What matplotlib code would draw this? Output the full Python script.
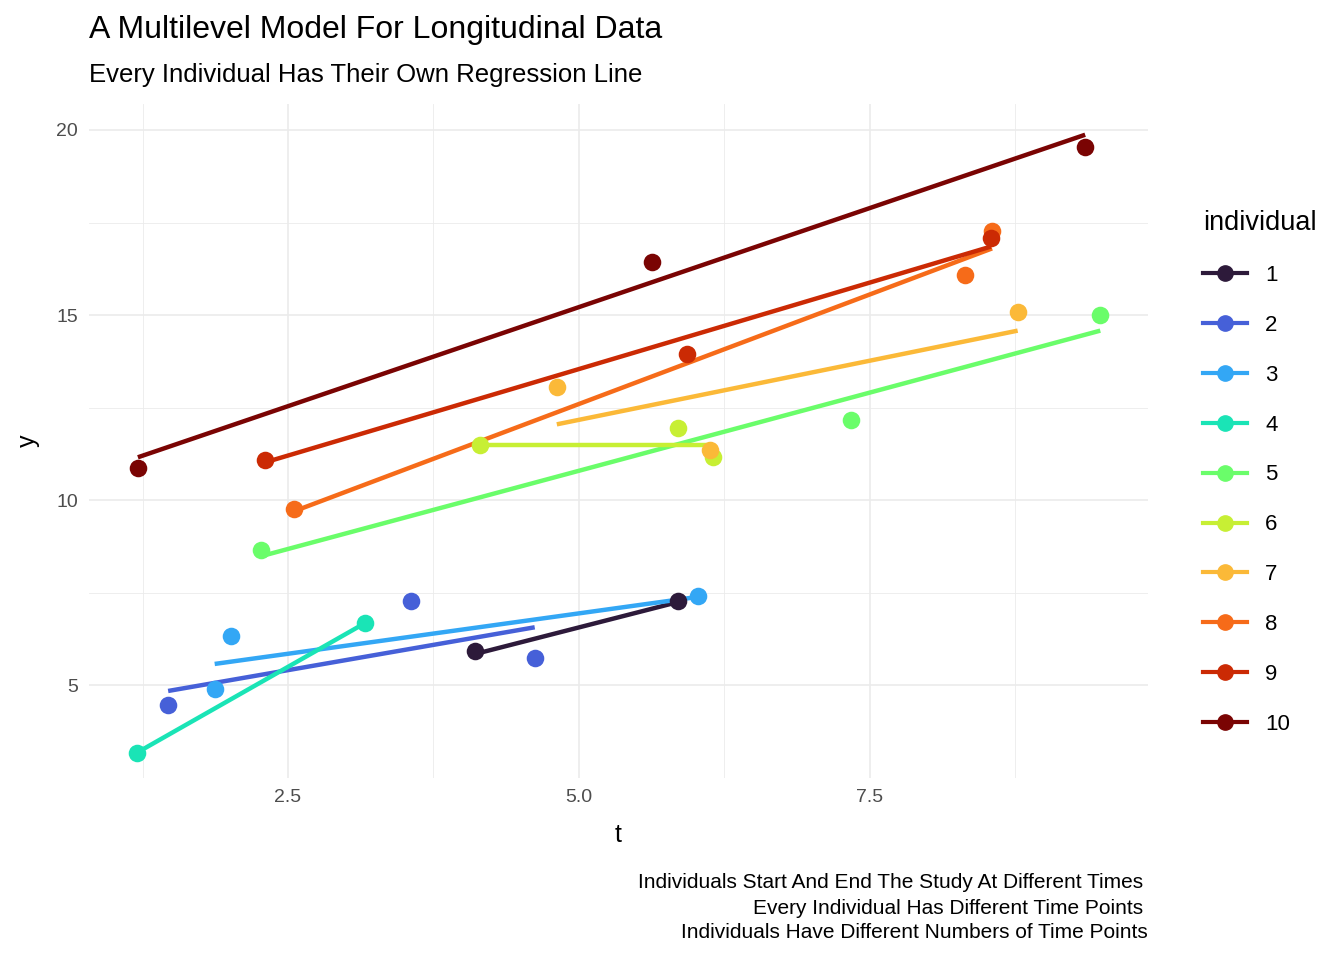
import matplotlib
matplotlib.use("Agg")
import matplotlib.pyplot as plt
from matplotlib.lines import Line2D

plt.rcParams['font.family'] = ['Liberation Sans', 'DejaVu Sans']

individuals = [1,2,3,4,5,6,7,8,9,10]
colors = ["#2d1a3a","#4660d8","#33a7f5","#1ae4b6","#6afd6a","#c7ef34","#fbb938","#f66b19","#cb2a04","#7a0403"]
pt_t = [[4.11,5.85],[1.47,3.56,4.62],[1.87,2.01,6.02],[1.20,3.16],[2.27,7.34,9.48],
        [4.15,5.85,6.15],[4.81,6.13,8.77],[2.55,8.32,8.55],[2.30,5.93,8.54],[1.21,5.63,9.35]]
pt_y = [[5.93,7.28],[4.47,7.28,5.74],[4.91,6.33,7.41],[3.18,6.68],[8.65,12.16,14.99],
        [11.48,11.94,11.16],[13.05,11.37,15.09],[9.76,16.07,17.28],[11.10,13.96,17.09],[10.86,16.44,19.54]]
line_t = [[4.11,5.85],[1.47,4.62],[1.87,6.02],[1.20,3.16],[2.27,9.48],
          [4.15,6.15],[4.81,8.77],[2.55,8.55],[2.30,8.54],[1.21,9.35]]
line_y = [[5.85,7.25],[4.85,6.57],[5.58,7.39],[3.18,6.68],[8.49,14.58],
          [11.5,11.5],[12.05,14.58],[9.70,16.80],[11.02,16.85],[11.16,19.87]]

fig = plt.figure(figsize=(13.44,9.6), dpi=100)
ax = fig.add_axes([89/1344, 1-778/960, (1148-89)/1344, (778-104)/960])
ax.set_xlim(0.79, 9.89); ax.set_ylim(2.53, 20.7)
for s in ax.spines.values(): s.set_visible(False)
ax.set_xticks([2.5,5.0,7.5]); ax.set_xticklabels(["2.5","5.0","7.5"])
ax.set_yticks([5,10,15,20])
ax.set_xticks([1.25,3.75,6.25,8.75], minor=True)
ax.set_yticks([2.5,7.5,12.5,17.5], minor=True)
ax.grid(True, which="major", color="#ebebeb", lw=1.2)
ax.grid(True, which="minor", color="#ebebeb", lw=0.6)
ax.tick_params(which="both", length=0, labelsize=14, labelcolor="#4d4d4d", pad=8)
ax.set_axisbelow(True)
for i in range(10):
    ax.plot(line_t[i], line_y[i], color=colors[i], lw=3.2, solid_capstyle="butt")
    ax.scatter(pt_t[i], pt_y[i], color=colors[i], s=160, zorder=3, lw=0)
ax.set_xlabel("t", fontsize=18, labelpad=12)
ax.set_ylabel("y", fontsize=18, labelpad=12)

fig.text(89/1344, 1-30/960, "A Multilevel Model For Longitudinal Data", fontsize=23, va="center")
fig.text(89/1344, 1-75/960, "Every Individual Has Their Own Regression Line", fontsize=18.5, va="center")
fig.text(1143/1344, 1-882/960, "Individuals Start And End The Study At Different Times", fontsize=15, ha="right", va="center")
fig.text(1143/1344, 1-908/960, "Every Individual Has Different Time Points", fontsize=15, ha="right", va="center")
fig.text(1148/1344, 1-933/960, "Individuals Have Different Numbers of Time Points", fontsize=15, ha="right", va="center")

handles = [Line2D([0],[0], color=c, lw=3, marker="o", markersize=11) for c in colors]
leg = fig.legend(handles, [str(i) for i in individuals], title="individual",
                 loc="upper left", bbox_to_anchor=(1183/1344, 1-190/960), frameon=False,
                 fontsize=16, title_fontsize=19.5, labelspacing=1.3, handlelength=2.0,
                 alignment="left")
fig.savefig("out.png", dpi=100, facecolor="white")
